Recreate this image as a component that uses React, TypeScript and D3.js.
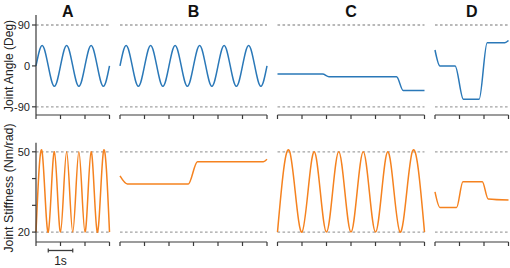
import React from "react";
import * as d3 from "d3";

// ---- data ----
const panelNames = ["A", "B", "C", "D"];
const panelDurations = [3, 6, 6, 3]; // seconds
const angleTicks = [90, 0, -90];
const angleLabels = ["90", "0", "-90"];
const angleRefLines = [90, -90];
const stiffTicks = [50, 40, 30, 20];
const stiffLabels = [50, 20];
const stiffRefLines = [50, 20];

// Joint angle (deg): [time s, value]
const angleA: [number, number][] = [
  [0, 0], [0.25, 45], [0.5, 0], [0.75, -45], [1, 0], [1.25, 45], [1.5, 0],
  [1.75, -45], [2, 0], [2.25, 45], [2.5, 0], [2.75, -45], [3, 0],
];
const angleB: [number, number][] = [
  [0, 0], [0.25, 45], [0.5, 0], [0.75, -45], [1, 0], [1.25, 45], [1.5, 0],
  [1.75, -45], [2, 0], [2.25, 45], [2.5, 0], [2.75, -45], [3, 0],
  [3.25, 45], [3.5, 0], [3.75, -45], [4, 0], [4.25, 45], [4.5, 0],
  [4.75, -45], [5, 0], [5.25, 45], [5.5, 0], [5.75, -45], [6, 0],
];
const angleC: [number, number][] = [
  [0, -18], [1.84, -18], [2.1, -24], [4.86, -24], [5.13, -54], [6, -54],
];
const angleD: [number, number][] = [
  [0, 35], [0.2, 0], [0.82, 0], [1.16, -73.5], [1.8, -73.5], [2.13, 51],
  [2.85, 51], [3, 56],
];

// Joint stiffness (Nm/rad): [time s, value]
const stiffA: [number, number][] = [
  [0, 20], [0.25, 50], [0.5, 20], [0.75, 50], [1, 20], [1.25, 50], [1.5, 20],
  [1.75, 50], [2, 20], [2.25, 50], [2.5, 20], [2.75, 50], [3, 20],
];
const stiffB: [number, number][] = [
  [0, 41], [0.3, 38], [2.79, 38], [3.16, 46.3], [5.85, 46.3], [6, 47.2],
];
const stiffC: [number, number][] = [
  [0, 20], [0.5, 50], [1, 20], [1.5, 50], [2, 20], [2.5, 50], [3, 20],
  [3.5, 50], [4, 20], [4.5, 50], [5, 20], [5.5, 50], [6, 20],
];
const stiffD: [number, number][] = [
  [0, 35], [0.2, 29.2], [0.88, 29.2], [1.14, 38.8], [1.93, 38.8],
  [2.17, 32.4], [3, 32],
];

const angleSeries = [angleA, angleB, angleC, angleD];
const stiffSeries = [stiffA, stiffB, stiffC, stiffD];
const angleOscillating = [true, true, false, false];
const stiffOscillating = [true, false, true, false];

// ---- layout ----
const W = 510;
const H = 268;
const X0 = 36;
const PPS = 24.5;
const GAP = 10.5;
const BLUE = "#2a78b8";
const ORANGE = "#f5821f";
const AXIS = "#3a3a3a";
const DASH = "#a3a3a3";
const FONT = "'Liberation Sans', Arial, Helvetica, sans-serif";

const yAngle = d3.scaleLinear().domain([-108, 112]).range([115, 15]);
const yStiff = d3.scaleLinear().domain([16.3, 53.4]).range([242, 142.7]);

const starts: number[] = [];
{
  let s = X0;
  panelDurations.forEach((d) => {
    starts.push(s);
    s += d * PPS + GAP;
  });
}
const xScales = panelDurations.map((d, i) =>
  d3.scaleLinear().domain([0, d]).range([starts[i], starts[i] + d * PPS])
);

function Panel({ i }: { i: number }) {
  const x = xScales[i];
  const dur = panelDurations[i];
  const ticks = d3.range(0, dur + 0.001, 1);
  const [x1, x2] = x.range();
  const lineA = d3
    .line<[number, number]>()
    .x((d) => x(d[0]))
    .y((d) => yAngle(d[1]))
    .curve(angleOscillating[i] ? d3.curveNatural : d3.curveMonotoneX);
  const lineS = d3
    .line<[number, number]>()
    .x((d) => x(d[0]))
    .y((d) => yStiff(d[1]))
    .curve(stiffOscillating[i] ? d3.curveNatural : d3.curveMonotoneX);
  const titleX = (x1 + x2) / 2 + (i === 0 ? -5 : 0);
  return (
    <g>
      <text
        x={titleX}
        y={17}
        textAnchor="middle"
        fontFamily={FONT}
        fontWeight="bold"
        fontSize={16}
        fill="#111"
      >
        {panelNames[i]}
      </text>
      {angleRefLines.map((v) => (
        <line
          key={"a" + v}
          x1={x1}
          x2={x2}
          y1={yAngle(v)}
          y2={yAngle(v)}
          stroke={DASH}
          strokeWidth={1.3}
          strokeDasharray="2.6,2.4"
        />
      ))}
      {stiffRefLines.map((v) => (
        <line
          key={"s" + v}
          x1={x1}
          x2={x2}
          y1={yStiff(v)}
          y2={yStiff(v)}
          stroke={DASH}
          strokeWidth={1.3}
          strokeDasharray="2.6,2.4"
        />
      ))}
      <path d={lineA(angleSeries[i]) || ""} fill="none" stroke={BLUE} strokeWidth={1.5} />
      <path d={lineS(stiffSeries[i]) || ""} fill="none" stroke={ORANGE} strokeWidth={1.5} />
      {[yAngle.range()[0], yStiff.range()[0]].map((yy) => (
        <g key={"ax" + yy}>
          <line x1={x1} x2={x2} y1={yy} y2={yy} stroke={AXIS} strokeWidth={1.2} />
          {ticks.map((t) => (
            <line
              key={t}
              x1={x(t)}
              x2={x(t)}
              y1={yy}
              y2={yy + 4}
              stroke={AXIS}
              strokeWidth={1.2}
            />
          ))}
        </g>
      ))}
    </g>
  );
}

export default function App() {
  const xa = X0;
  return (
    <svg
      width={W}
      height={H}
      style={{ position: "absolute", left: 0, top: 0, display: "block", background: "#fff" }}
    >
      <rect width={W} height={H} fill="#fff" />
      {panelNames.map((_, i) => (
        <Panel key={i} i={i} />
      ))}
      {/* y axes */}
      <line x1={xa} x2={xa} y1={yAngle.range()[0]} y2={yAngle.range()[1]} stroke={AXIS} strokeWidth={1.2} />
      {angleTicks.map((v, k) => (
        <g key={v}>
          <line x1={xa - 4} x2={xa} y1={yAngle(v)} y2={yAngle(v)} stroke={AXIS} strokeWidth={1.2} />
          <text
            x={xa - 6}
            y={yAngle(v)}
            dy="0.36em"
            textAnchor="end"
            fontFamily={FONT}
            fontSize={11}
            fill="#222"
          >
            {angleLabels[k]}
          </text>
        </g>
      ))}
      <line x1={xa} x2={xa} y1={yStiff.range()[0]} y2={yStiff.range()[1]} stroke={AXIS} strokeWidth={1.2} />
      {stiffTicks.map((v) => (
        <line key={v} x1={xa - 4} x2={xa} y1={yStiff(v)} y2={yStiff(v)} stroke={AXIS} strokeWidth={1.2} />
      ))}
      {stiffLabels.map((v) => (
        <text
          key={v}
          x={xa - 6}
          y={yStiff(v)}
          dy="0.36em"
          textAnchor="end"
          fontFamily={FONT}
          fontSize={11}
          fill="#222"
        >
          {v}
        </text>
      ))}
      <text
        transform={`translate(12.5,${yAngle(0)}) rotate(-90)`}
        textAnchor="middle"
        fontFamily={FONT}
        fontSize={12}
        fill="#222"
      >
        Joint Angle (Deg)
      </text>
      <text
        transform="translate(12.5,188) rotate(-90)"
        textAnchor="middle"
        fontFamily={FONT}
        fontSize={12.4}
        fill="#222"
      >
        Joint Stiffness (Nm/rad)
      </text>
      {/* scale bar: 1 s */}
      <g>
        <line x1={xScales[0](0.5)} x2={xScales[0](1.5)} y1={250.5} y2={250.5} stroke={AXIS} strokeWidth={1.3} />
        <line x1={xScales[0](0.5)} x2={xScales[0](0.5)} y1={248.5} y2={252.5} stroke={AXIS} strokeWidth={1.2} />
        <line x1={xScales[0](1.5)} x2={xScales[0](1.5)} y1={248.5} y2={252.5} stroke={AXIS} strokeWidth={1.2} />
        <text
          x={xScales[0](1)}
          y={265}
          textAnchor="middle"
          fontFamily={FONT}
          fontSize={12}
          fill="#222"
        >
          1s
        </text>
      </g>
    </svg>
  );
}
